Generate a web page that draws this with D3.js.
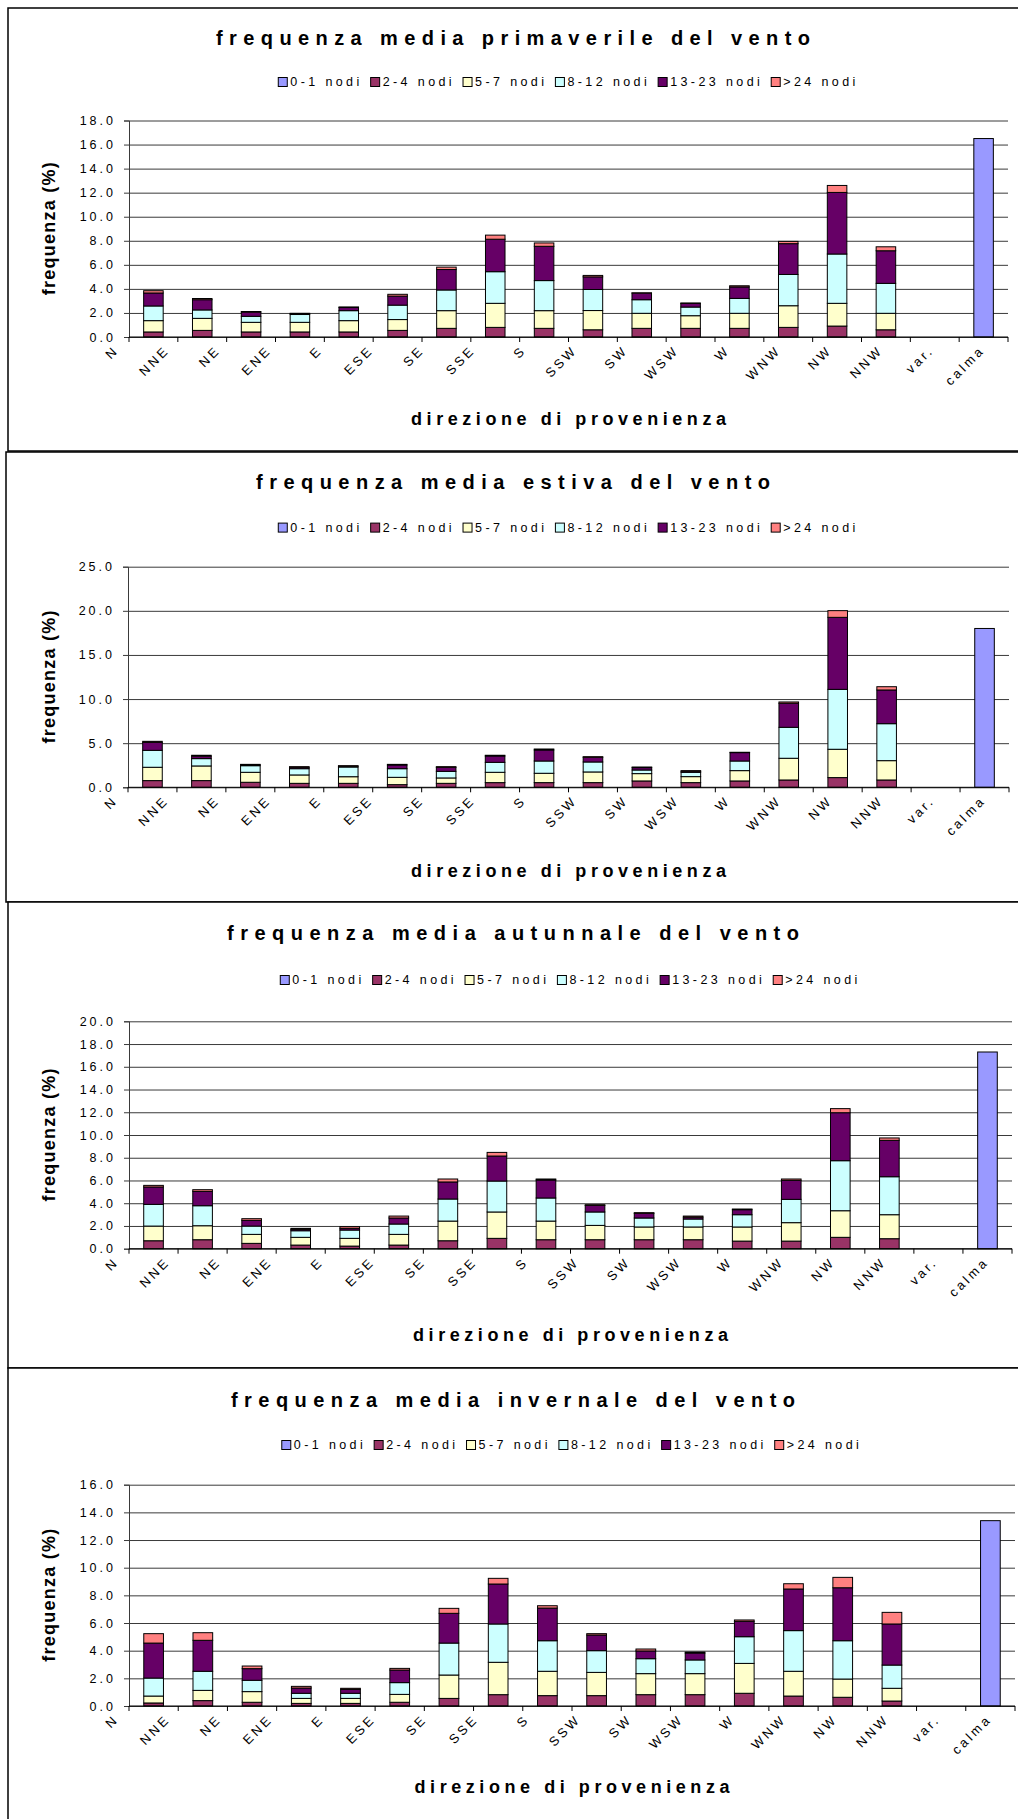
<!DOCTYPE html>
<html>
<head>
<meta charset="utf-8">
<script src="https://cdn.jsdelivr.net/npm/d3@7"></script>
<style>
  html, body { margin: 0; padding: 0; background: #fff; }
  svg { display: block; }
  text { font-family: "Liberation Sans", Arial, Helvetica, sans-serif; fill: #000; }
</style>
</head>
<body>
<svg id="chart" width="1018" height="1819"></svg>
<script>
// Wind direction categories (plus variable wind and calm)
const directions = ["N","NNE","NE","ENE","E","ESE","SE","SSE","S","SSW","SW","WSW","W","WNW","NW","NNW","var.","calma"];
// Wind speed classes, stacked bottom to top
const speedClasses = ["0-1 nodi","2-4 nodi","5-7 nodi","8-12 nodi","13-23 nodi",">24 nodi"];

// Spring mean frequency (%)
const spring_0_1   = [0,0,0,0,0,0,0,0,0,0,0,0,0,0,0,0,0,16.5];
const spring_2_4   = [0.42,0.55,0.42,0.42,0.42,0.55,0.72,0.80,0.72,0.60,0.72,0.72,0.72,0.80,0.91,0.60,0,0];
const spring_5_7   = [0.94,1.00,0.80,0.80,0.94,0.90,1.47,2.00,1.47,1.60,1.25,1.05,1.25,1.80,1.89,1.37,0,0];
const spring_8_12  = [1.22,0.70,0.50,0.65,0.83,1.20,1.72,2.63,2.50,1.75,1.13,0.72,1.24,2.60,4.10,2.49,0,0];
const spring_13_23 = [1.08,0.85,0.35,0.08,0.26,0.75,1.70,2.70,2.85,1.05,0.55,0.30,0.95,2.56,5.12,2.71,0,0];
const spring_24    = [0.19,0.10,0.05,0.02,0.05,0.15,0.20,0.34,0.28,0.12,0.02,0.04,0.10,0.19,0.58,0.33,0,0];

// Summer mean frequency (%)
const summer_0_1   = [0,0,0,0,0,0,0,0,0,0,0,0,0,0,0,0,0,18.0];
const summer_2_4   = [0.76,0.76,0.57,0.45,0.45,0.30,0.45,0.53,0.53,0.53,0.72,0.53,0.72,0.83,1.10,0.83,0,0];
const summer_5_7   = [1.51,1.66,1.13,0.95,0.75,0.83,0.61,1.17,1.06,1.21,0.83,0.68,1.17,2.46,3.21,2.19,0,0];
const summer_8_12  = [1.92,0.83,0.75,0.71,1.10,0.98,0.75,1.13,1.39,1.13,0.41,0.49,1.09,3.51,6.79,4.19,0,0];
const summer_13_23 = [0.90,0.28,0.10,0.15,0.10,0.42,0.45,0.72,1.25,0.53,0.27,0.12,0.95,2.72,8.16,3.82,0,0];
const summer_24    = [0.12,0.10,0.05,0.08,0.05,0.07,0.08,0.08,0.11,0.07,0.07,0.07,0.04,0.15,0.76,0.37,0,0];

// Autumn mean frequency (%)
const autumn_0_1   = [0,0,0,0,0,0,0,0,0,0,0,0,0,0,0,0,0,17.3];
const autumn_2_4   = [0.70,0.79,0.47,0.32,0.23,0.32,0.70,0.91,0.79,0.79,0.79,0.79,0.67,0.67,1.00,0.88,0,0];
const autumn_5_7   = [1.29,1.23,0.79,0.68,0.68,0.94,1.73,2.32,1.64,1.26,1.12,1.12,1.24,1.62,2.34,2.11,0,0];
const autumn_8_12  = [1.91,1.76,0.73,0.58,0.73,0.91,1.94,2.72,2.03,1.18,0.79,0.70,1.08,2.05,4.40,3.34,0,0];
const autumn_13_23 = [1.53,1.26,0.50,0.12,0.15,0.53,1.50,2.20,1.58,0.58,0.41,0.16,0.44,1.67,4.22,3.20,0,0];
const autumn_24    = [0.14,0.15,0.15,0.09,0.15,0.17,0.26,0.32,0.09,0.06,0.06,0.10,0.06,0.12,0.36,0.21,0,0];

// Winter mean frequency (%)
const winter_0_1   = [0,0,0,0,0,0,0,0,0,0,0,0,0,0,0,0,0,13.4];
const winter_2_4   = [0.22,0.39,0.27,0.19,0.19,0.27,0.55,0.82,0.75,0.75,0.82,0.82,0.92,0.72,0.63,0.36,0,0];
const winter_5_7   = [0.50,0.74,0.77,0.36,0.36,0.57,1.69,2.34,1.76,1.68,1.52,1.52,2.16,1.79,1.32,0.92,0,0];
const winter_8_12  = [1.30,1.38,0.82,0.37,0.37,0.85,2.31,2.77,2.21,1.57,1.08,0.99,1.93,2.94,2.77,1.68,0,0];
const winter_13_23 = [2.53,2.24,0.84,0.38,0.28,0.91,2.15,2.89,2.36,1.13,0.56,0.50,1.11,3.01,3.83,2.97,0,0];
const winter_24    = [0.68,0.55,0.19,0.12,0.08,0.12,0.36,0.41,0.17,0.10,0.14,0.07,0.10,0.38,0.75,0.84,0,0];

// Value axis tick labels for each season
const springTicks = [0,2,4,6,8,10,12,14,16,18];
const summerTicks = [0,5,10,15,20,25];
const autumnTicks = [0,2,4,6,8,10,12,14,16,18,20];
const winterTicks = [0,2,4,6,8,10,12,14,16];

const chartTitles = [
  "frequenza media primaverile del vento",
  "frequenza media estiva del vento",
  "frequenza media autunnale del vento",
  "frequenza media invernale del vento"
];
const yAxisTitle = "frequenza (%)";
const xAxisTitle = "direzione di provenienza";

// Excel-style fill palette, one per speed class
const classColors = ["#9999ff","#993366","#ffffcc","#ccffff","#660066","#ff8080"];

const seasonSeries = [
  [spring_0_1, spring_2_4, spring_5_7, spring_8_12, spring_13_23, spring_24],
  [summer_0_1, summer_2_4, summer_5_7, summer_8_12, summer_13_23, summer_24],
  [autumn_0_1, autumn_2_4, autumn_5_7, autumn_8_12, autumn_13_23, autumn_24],
  [winter_0_1, winter_2_4, winter_5_7, winter_8_12, winter_13_23, winter_24]
];
const seasonTicks = [springTicks, summerTicks, autumnTicks, winterTicks];

// Page layout of the four stacked chart boxes
const panels = [
  { top: 8,    left: 8, bottom: 451,  plot: { l: 129, r: 1008, t: 120.5,  b: 337 },    titleY: 38,    legendY: 82,    xTitleY: 419,  titleLen: 594 },
  { top: 452,  left: 6, bottom: 902,  plot: { l: 128, r: 1009, t: 566.7,  b: 787.3 },  titleY: 482,   legendY: 527.6, xTitleY: 871,  titleLen: 514 },
  { top: 902,  left: 8, bottom: 1368, plot: { l: 129, r: 1012, t: 1021.3, b: 1248.7 }, titleY: 933.4, legendY: 980,   xTitleY: 1335, titleLen: 572 },
  { top: 1368, left: 8, bottom: 1830, plot: { l: 129, r: 1015, t: 1484.7, b: 1706 },   titleY: 1399.5, legendY: 1445, xTitleY: 1787, titleLen: 564 }
];

const svg = d3.select("#chart");
const fmt = d3.format(".1f");

panels.forEach((p, si) => {
  const g = svg.append("g");
  const series = seasonSeries[si];
  const ticks = seasonTicks[si];

  // chart box
  g.append("rect")
    .attr("x", p.left).attr("y", p.top)
    .attr("width", 1040 - p.left).attr("height", p.bottom - p.top)
    .attr("fill", "#fff").attr("stroke", "#000").attr("stroke-width", 1.5);

  // title
  g.append("text")
    .attr("x", 513).attr("y", p.titleY)
    .attr("text-anchor", "middle").attr("dominant-baseline", "central")
    .attr("font-size", 20).attr("font-weight", "bold")
    .attr("textLength", p.titleLen).attr("lengthAdjust", "spacing")
    .text(chartTitles[si]);

  // legend
  const legend = g.append("g");
  let lx = 0;
  speedClasses.forEach((name, k) => {
    const item = legend.append("g").attr("transform", `translate(${lx},0)`);
    item.append("rect")
      .attr("x", 0).attr("y", -4.5).attr("width", 9).attr("height", 9)
      .attr("fill", classColors[k]).attr("stroke", "#000").attr("stroke-width", 1);
    const t = item.append("text")
      .attr("x", 12).attr("y", 0).attr("dominant-baseline", "central")
      .attr("font-size", 12.5).attr("letter-spacing", 3.4)
      .text(name);
    lx += 12 + t.node().getComputedTextLength() + 8;
  });
  legend.attr("transform", `translate(${(p.plot.l + p.plot.r) / 2 - (lx - 8) / 2},${p.legendY})`);

  // scales
  const y = d3.scaleLinear().domain([0, d3.max(ticks)]).range([p.plot.b, p.plot.t]);
  const xSlot = d3.scaleBand().domain(directions).range([p.plot.l, p.plot.r]).padding(0);
  const xBar = d3.scaleBand().domain(directions).range([p.plot.l, p.plot.r])
    .paddingInner(0.6).paddingOuter(0.3);
  // label anchors: spread a little wider than the categories, ending under the last bar
  const step = xSlot.step();
  const xLabel = d3.scalePoint().domain(directions)
    .range([p.plot.l + step * 0.5 - 34, p.plot.r - step * 0.5 + 2]);

  // gridlines
  g.append("g").attr("transform", `translate(${p.plot.l},0)`)
    .call(d3.axisLeft(y).tickValues(ticks).tickSize(-(p.plot.r - p.plot.l)).tickFormat(""))
    .call(a => a.select(".domain").remove())
    .call(a => a.selectAll("line").attr("stroke", "#3a3a3a").attr("stroke-width", 1));

  // stacked bars
  const rows = directions.map((d, i) => {
    const r = { dir: d };
    speedClasses.forEach((c, k) => { r[c] = series[k][i]; });
    return r;
  });
  const stacked = d3.stack().keys(speedClasses)(rows);
  stacked.forEach((layer, k) => {
    g.append("g").selectAll("rect")
      .data(layer.filter(d => d[1] - d[0] > 0))
      .join("rect")
      .attr("x", d => xBar(d.data.dir))
      .attr("width", xBar.bandwidth())
      .attr("y", d => y(d[1]))
      .attr("height", d => y(d[0]) - y(d[1]))
      .attr("fill", classColors[k])
      .attr("stroke", "#000").attr("stroke-width", 1);
  });

  // value axis
  const ya = g.append("g").attr("transform", `translate(${p.plot.l},0)`)
    .call(d3.axisLeft(y).tickValues(ticks).tickSize(5).tickPadding(8).tickFormat(fmt));
  ya.select(".domain").attr("stroke", "#3a3a3a");
  ya.selectAll("line").attr("stroke", "#3a3a3a");
  ya.selectAll("text").attr("font-size", 12.5).attr("letter-spacing", 3)
    .attr("font-family", "'Liberation Sans', Arial, sans-serif").attr("fill", "#000");

  // category axis: line and boundary ticks
  g.append("line")
    .attr("x1", p.plot.l).attr("x2", p.plot.r)
    .attr("y1", p.plot.b).attr("y2", p.plot.b)
    .attr("stroke", "#000").attr("stroke-width", 1);
  const bounds = directions.map(d => xSlot(d)).concat([p.plot.r]);
  g.append("g").selectAll("line").data(bounds).join("line")
    .attr("x1", d => d).attr("x2", d => d)
    .attr("y1", p.plot.b).attr("y2", p.plot.b + 5)
    .attr("stroke", "#000");

  // direction labels at 45°, ending at their anchor point
  g.append("g").selectAll("text").data(directions).join("text")
    .attr("transform", d => `translate(${xLabel(d).toFixed(2)},${p.plot.b + 14}) rotate(-45)`)
    .attr("text-anchor", "end")
    .attr("font-size", 13)
    .attr("letter-spacing", 3)
    .text(d => d);

  // axis titles
  g.append("text")
    .attr("transform", `translate(49,${(p.plot.t + p.plot.b) / 2}) rotate(-90)`)
    .attr("text-anchor", "middle").attr("dominant-baseline", "central")
    .attr("font-size", 18).attr("font-weight", "bold")
    .attr("textLength", 133).attr("lengthAdjust", "spacing")
    .text(yAxisTitle);
  g.append("text")
    .attr("x", (p.plot.l + p.plot.r) / 2).attr("y", p.xTitleY)
    .attr("text-anchor", "middle").attr("dominant-baseline", "central")
    .attr("font-size", 18).attr("font-weight", "bold")
    .attr("textLength", 315).attr("lengthAdjust", "spacing")
    .text(xAxisTitle);
});
</script>
</body>
</html>
